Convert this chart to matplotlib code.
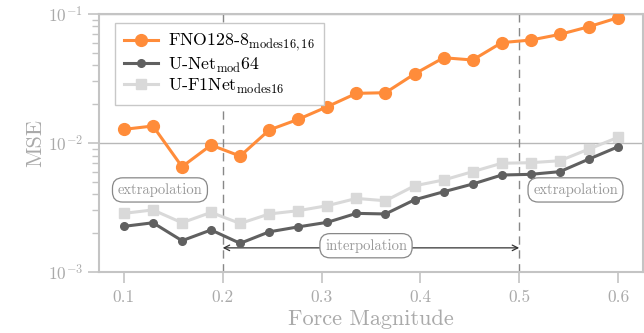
import numpy as np
import matplotlib
matplotlib.use("Agg")
import matplotlib.pyplot as plt

plt.rcParams['font.family'] = 'serif'
plt.rcParams['font.serif'] = ['cmr10']
plt.rcParams['mathtext.fontset'] = 'cm'
plt.rcParams['axes.unicode_minus'] = False
plt.rcParams['axes.formatter.use_mathtext'] = True

# force magnitudes, 18 runs between 0.1 and 0.6
force = np.linspace(0.1, 0.6, 18)

mse_fno = [0.01276, 0.01355, 0.00655, 0.00964, 0.00792, 0.01262, 0.01527, 0.01913, 0.02427,
           0.02454, 0.0343, 0.0458, 0.0440, 0.0600, 0.0628, 0.0695, 0.0797, 0.0936]
mse_unet = [0.00226, 0.00241, 0.00175, 0.00212, 0.00167, 0.00205, 0.00224, 0.00243, 0.00285,
            0.00282, 0.00363, 0.00419, 0.00481, 0.00565, 0.00572, 0.00600, 0.00751, 0.00935]
mse_uf1 = [0.00285, 0.00303, 0.00241, 0.00290, 0.00238, 0.00282, 0.00299, 0.00327, 0.00372,
           0.00357, 0.00466, 0.00517, 0.00600, 0.00697, 0.00704, 0.00729, 0.00898, 0.01106]

labels = [r'FNO128-8$_{\mathrm{modes16,16}}$', r'U-Net$_{\mathrm{mod}}$64', r'U-F1Net$_{\mathrm{modes16}}$']
train_lo, train_hi = 0.2, 0.5

spine_col = '#c4c4c4'
txt_col = '#aaaaaa'

fig = plt.figure(figsize=(6.44, 3.33), dpi=100)
ax = fig.add_axes([0.154, 0.183, 0.844, 0.775])

ax.plot(force, mse_fno, '-o', color='#ff8c3a', lw=2.2, ms=8.5, label=labels[0], zorder=4)
ax.plot(force, mse_unet, '-o', color='#606060', lw=2.2, ms=5.5, label=labels[1], zorder=4)
ax.plot(force, mse_uf1, '-s', color='#d9d9d9', lw=2.2, ms=6.5, label=labels[2], zorder=3)

ax.set_yscale('log')
ax.set_ylim(1e-3, 1e-1)
ax.set_xlim(0.075, 0.625)
ax.set_xticks([0.1, 0.2, 0.3, 0.4, 0.5, 0.6])
ax.set_xticklabels(['0.1', '0.2', '0.3', '0.4', '0.5', '0.6'])

ax.grid(True, which='major', axis='y', color='#b8b8b8', lw=1.0)
ax.set_axisbelow(True)

for v in (train_lo, train_hi):
    ax.axvline(v, color='#888888', lw=1.0, ls=(0, (6, 4)), zorder=2)

for s in ax.spines.values():
    s.set_color(spine_col)
    s.set_linewidth(1.5)

ax.tick_params(which='both', direction='out', colors=spine_col, labelcolor=txt_col, labelsize=12.5)
ax.tick_params(which='major', length=8, width=1.2)
ax.tick_params(which='minor', length=5, width=1.0)
ax.tick_params(axis='x', pad=5)

ax.set_xlabel('Force Magnitude', fontsize=16, color=txt_col, labelpad=3)
ax.set_ylabel('MSE', fontsize=16, color=txt_col, labelpad=2)

box = dict(boxstyle='round,pad=0.35,rounding_size=0.7', fc='white', ec='#888888', lw=0.9)
ax.annotate('', xy=(train_lo, 0.00154), xytext=(train_hi, 0.00154),
            arrowprops=dict(arrowstyle='<->', color='#333333', lw=0.9, shrinkA=0, shrinkB=0))
ax.text(0.345, 0.00160, 'interpolation', fontsize=10.5, color='#999999', ha='center', va='center', bbox=box, zorder=5)
ax.text(0.1365, 0.00433, 'extrapolation', fontsize=10.5, color='#999999', ha='center', va='center', bbox=box, zorder=5)
ax.text(0.557, 0.00433, 'extrapolation', fontsize=10.5, color='#999999', ha='center', va='center', bbox=box, zorder=5)

leg = ax.legend(loc='upper left', bbox_to_anchor=(0.029, 0.965), borderaxespad=0, fontsize=12.8,
                fancybox=False, framealpha=1, edgecolor='#c8c8c8', handlelength=1.9,
                handletextpad=0.6, borderpad=0.5, labelspacing=0.12)
leg.get_frame().set_linewidth(1.0)

fig.savefig('out.png', dpi=100)
